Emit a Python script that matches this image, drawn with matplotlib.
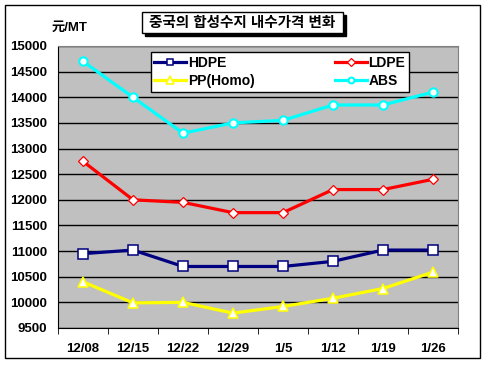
import matplotlib.pyplot as plt
from matplotlib.patches import Rectangle

weeks = ['12/08', '12/15', '12/22', '12/29', '1/5', '1/12', '1/19', '1/26']
hdpe = [10950, 11020, 10700, 10700, 10700, 10800, 11020, 11020]
ldpe = [12750, 12000, 11950, 11750, 11750, 12200, 12200, 12400]
pp = [10400, 9990, 10000, 9790, 9920, 10080, 10270, 10590]
abs_ = [14700, 14000, 13300, 13500, 13550, 13850, 13850, 14100]
yticks = list(range(9500, 15001, 500))

plt.rcParams['font.family'] = ['Liberation Sans', 'Noto Sans CJK KR', 'DejaVu Sans']
plt.rcParams['font.weight'] = 'bold'

W, H = 486, 369
fig = plt.figure(figsize=(W / 100, H / 100), dpi=100)
fig.patch.set_facecolor('white')

# outer frame
fig.patches.append(Rectangle((5 / W, 1 - 358 / H), 475 / W, 353 / H, transform=fig.transFigure,
                             fill=False, edgecolor='black', linewidth=1))

ax = fig.add_axes([58 / W, 1 - 328 / H, 400 / W, 282 / H])
ax.set_facecolor('#C0C0C0')
x = range(len(weeks))
h1, = ax.plot(x, hdpe, color='#000080', lw=2.3, marker='s', ms=6.5, mfc='white', mec='#000080', mew=1.1, label='HDPE')
h2, = ax.plot(x, ldpe, color='#FF0000', lw=2.3, marker='D', ms=5.5, mfc='white', mec='#FF0000', mew=0.9, label='LDPE')
h3, = ax.plot(x, pp, color='#FFFF00', lw=2.3, marker='^', ms=7.5, mfc='white', mec='#FFFF00', mew=1.1, label='PP(Homo)')
h4, = ax.plot(x, abs_, color='#00FFFF', lw=2.3, marker='o', ms=6, mfc='white', mec='#00FFFF', mew=1.5, label='ABS')

ax.set_xlim(-0.5, len(weeks) - 0.5)
ax.set_ylim(9500, 15000)
ax.set_yticks(yticks)
ax.set_yticklabels([str(v) for v in yticks], fontsize=9.5, fontweight='bold')
ax.set_xticks(x)
ax.set_xticklabels(weeks, fontsize=9.5, fontweight='bold')
ax.set_xticks([i + 0.5 for i in range(-1, len(weeks))], minor=True)
ax.tick_params(axis='x', which='major', length=0, pad=11)
ax.tick_params(axis='x', which='minor', length=4, direction='out')
ax.tick_params(axis='y', length=0, pad=8)
ax.yaxis.grid(True, color='black', lw=1)
ax.set_axisbelow(True)
for s in ['left', 'bottom']:
    ax.spines[s].set_color('black')
for s in ['top', 'right']:
    ax.spines[s].set_color('#808080')

leg = ax.legend([h1, h3, h2, h4], ['HDPE', 'PP(Homo)', 'LDPE', 'ABS'], ncol=2, loc='upper left',
                bbox_to_anchor=(93 / 400, 1 - 6.5 / 282), fontsize=10, markerscale=0.7,
                frameon=True, fancybox=False, edgecolor='black', framealpha=1, handlelength=2.3,
                columnspacing=5.8, borderpad=0.25, labelspacing=0.3, handletextpad=0.1,
                borderaxespad=0)
leg.get_frame().set_linewidth(1)
for t in leg.get_texts():
    t.set_fontweight('bold')

# title box with shadow
fig.patches.append(Rectangle((145 / W, 1 - 36 / H), 201 / W, 21 / H, transform=fig.transFigure,
                             facecolor='black', edgecolor='black'))
fig.patches.append(Rectangle((142 / W, 1 - 33 / H), 201 / W, 21 / H, transform=fig.transFigure,
                             facecolor='white', edgecolor='black', lw=1))
fig.text(242.5 / W, 1 - 22.5 / H, '중국의 합성수지 내수가격 변화', ha='center', va='center',
         fontsize=10.5, fontweight='bold')
fig.text(52 / W, 1 - 28 / H, '元/MT', ha='left', va='center', fontsize=9.5, fontweight='bold')

fig.savefig('out.png', dpi=100)
